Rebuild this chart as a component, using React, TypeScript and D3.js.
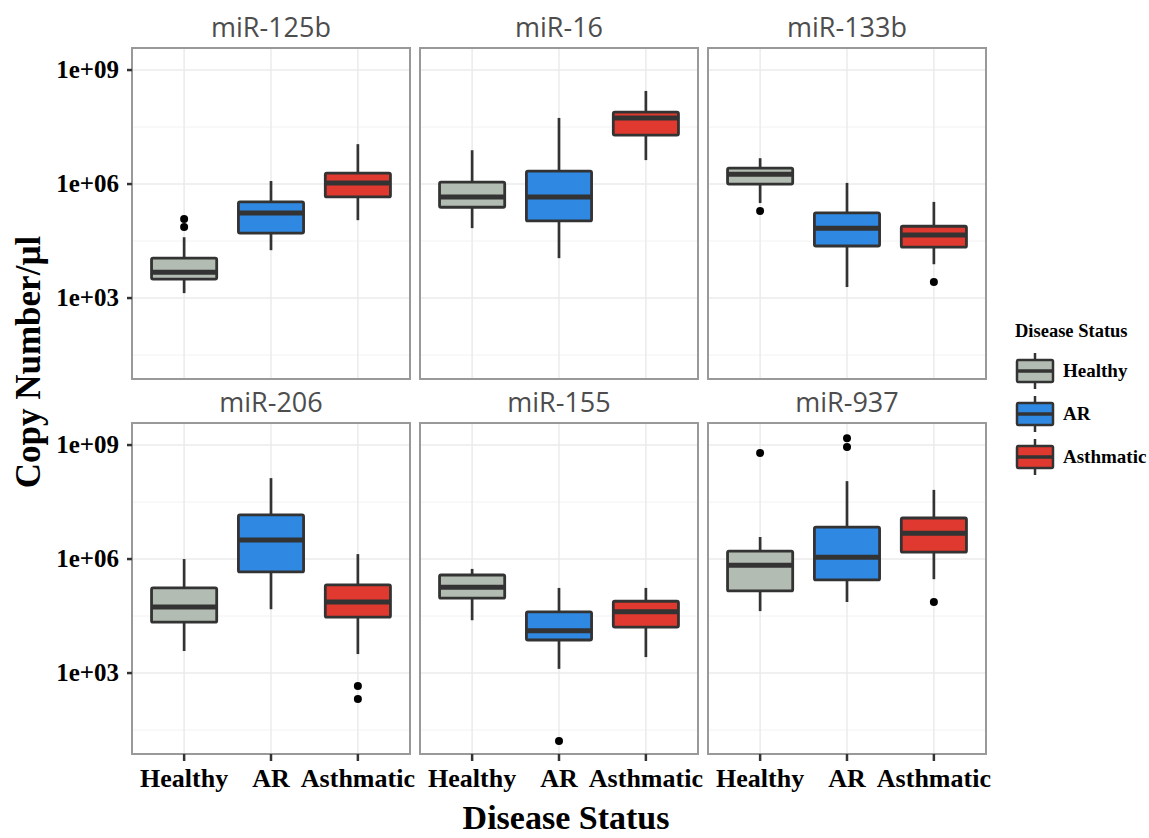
import React from "react";
import * as d3 from "d3";

// facet titles and groups
const panelNames = ["miR-125b", "miR-16", "miR-133b", "miR-206", "miR-155", "miR-937"];
const groups = ["Healthy", "AR", "Asthmatic"];
const groupColors = ["#b3bcb3", "#2f89e3", "#e0392f"];

// box stats per group, log10(copies/µl): [lower whisker, q1, median, q3, upper whisker]
const mir125b = [[3.13, 3.5, 3.68, 4.05, 4.6], [4.26, 4.71, 5.24, 5.53, 6.08], [5.05, 5.66, 6.03, 6.29, 7.05]];
const mir16 = [[4.84, 5.39, 5.66, 6.05, 6.89], [4.05, 5.03, 5.66, 6.34, 7.74], [6.63, 7.29, 7.74, 7.89, 8.45]];
const mir133b = [[5.5, 6.0, 6.26, 6.42, 6.68], [3.29, 4.37, 4.84, 5.24, 6.03], [3.89, 4.34, 4.66, 4.89, 5.53]];
const mir206 = [[3.58, 4.34, 4.74, 5.24, 6.0], [4.68, 5.66, 6.5, 7.16, 8.13], [3.5, 4.47, 4.87, 5.32, 6.13]];
const mir155 = [[4.39, 4.97, 5.26, 5.58, 5.74], [3.11, 3.87, 4.11, 4.61, 5.24], [3.42, 4.21, 4.61, 4.89, 5.24]];
const mir937 = [[4.63, 5.16, 5.84, 6.21, 6.58], [4.87, 5.45, 6.05, 6.84, 8.05], [5.47, 6.18, 6.68, 7.08, 7.82]];

// outliers per group, log10
const mir125bOut = [[5.08, 4.87], [], []];
const mir16Out = [[], [], []];
const mir133bOut = [[5.29], [], [3.42]];
const mir206Out = [[], [], [2.66, 2.32]];
const mir155Out = [[], [1.21], []];
const mir937Out = [[8.79], [9.18, 8.95], [4.87]];

const panelStats = [mir125b, mir16, mir133b, mir206, mir155, mir937];
const panelOutliers = [mir125bOut, mir16Out, mir133bOut, mir206Out, mir155Out, mir937Out];

const yTicks = [1e3, 1e6, 1e9];
const yMinor = [10 ** 1.5, 10 ** 4.5, 10 ** 7.5];
const yTickLabels = ["1e+03", "1e+06", "1e+09"];

const W = 1149;
const H = 838;
const colLeft = [132, 420, 708];
const rowTop = [48, 423];
const panelW = 278;
const panelH = 331;

const serif = "'Liberation Serif', 'Times New Roman', serif";
const ink = "#333333";

export default function App() {
  const x = d3.scalePoint<string>().domain(groups).range([0, panelW]).padding(0.6);
  const boxW = x.step() * 0.75;
  const y = d3.scaleLog().domain([10 ** 0.87, 10 ** 9.58]).range([panelH, 0]);

  return (
    <svg width={W} height={H} style={{ display: "block", position: "absolute", left: 0, top: 0, background: "#fff" }}>
      {panelNames.map((name, p) => {
        const col = p % 3;
        const row = Math.floor(p / 3);
        const stats = panelStats[p];
        const outs = panelOutliers[p];
        return (
          <g key={name} transform={`translate(${colLeft[col]},${rowTop[row]})`}>
            <rect x={0} y={0} width={panelW} height={panelH} fill="#fff" />
            {yMinor.map((t) => (
              <line key={"mn" + t} x1={0} x2={panelW} y1={y(t)} y2={y(t)} stroke="#f2f2f2" strokeWidth={1} />
            ))}
            {yTicks.map((t) => (
              <line key={"mj" + t} x1={0} x2={panelW} y1={y(t)} y2={y(t)} stroke="#ebebeb" strokeWidth={1.5} />
            ))}
            {groups.map((g) => (
              <line key={"vg" + g} x1={x(g)} x2={x(g)} y1={0} y2={panelH} stroke="#ebebeb" strokeWidth={1.5} />
            ))}
            {groups.map((g, i) => {
              const [lo, q1, med, q3, hi] = stats[i].map((v) => 10 ** v);
              const cx = x(g) as number;
              return (
                <g key={g}>
                  <line x1={cx} x2={cx} y1={y(hi)} y2={y(q3)} stroke={ink} strokeWidth={2.7} />
                  <line x1={cx} x2={cx} y1={y(q1)} y2={y(lo)} stroke={ink} strokeWidth={2.7} />
                  <rect
                    x={cx - boxW / 2}
                    y={y(q3)}
                    width={boxW}
                    height={y(q1) - y(q3)}
                    fill={groupColors[i]}
                    stroke={ink}
                    strokeWidth={2.8}
                    rx={1.5}
                  />
                  <line x1={cx - boxW / 2} x2={cx + boxW / 2} y1={y(med)} y2={y(med)} stroke={ink} strokeWidth={5} />
                  {outs[i].map((o, k) => (
                    <circle key={k} cx={cx} cy={y(10 ** o)} r={4} fill="#000" />
                  ))}
                </g>
              );
            })}
            <rect x={0} y={0} width={panelW} height={panelH} fill="none" stroke="#999999" strokeWidth={2} />
            <text
              x={panelW / 2}
              y={-11}
              textAnchor="middle"
              fontFamily="'Open Sans', 'DejaVu Sans', sans-serif"
              fontSize={27}
              fill="#4d4d4d"
            >
              {name}
            </text>
            {col === 0 &&
              yTicks.map((t, k) => (
                <g key={"yt" + t}>
                  <line x1={-5} x2={0} y1={y(t)} y2={y(t)} stroke={ink} strokeWidth={2.5} />
                  <text
                    x={-13}
                    y={y(t) + 8}
                    textAnchor="end"
                    fontFamily={serif}
                    fontWeight="bold"
                    fontSize={25}
                    fill="#000"
                  >
                    {yTickLabels[k]}
                  </text>
                </g>
              ))}
            {row === 1 &&
              groups.map((g) => (
                <g key={"xt" + g}>
                  <line x1={x(g)} x2={x(g)} y1={panelH} y2={panelH + 7} stroke={ink} strokeWidth={2.5} />
                  <text
                    x={x(g)}
                    y={panelH + 33}
                    textAnchor="middle"
                    fontFamily={serif}
                    fontWeight="bold"
                    fontSize={26}
                    fill="#000"
                  >
                    {g}
                  </text>
                </g>
              ))}
          </g>
        );
      })}

      {/* axis titles */}
      <text
        transform={`translate(40,362) rotate(-90)`}
        textAnchor="middle"
        fontFamily={serif}
        fontWeight="bold"
        fontSize={35}
        fill="#000"
      >
        Copy Number/µl
      </text>
      <text x={566} y={829} textAnchor="middle" fontFamily={serif} fontWeight="bold" fontSize={34} fill="#000">
        Disease Status
      </text>

      {/* legend */}
      <g transform="translate(1015,0)">
        <text x={0} y={337} fontFamily={serif} fontWeight="bold" fontSize={18.5} fill="#000">
          Disease Status
        </text>
        {groups.map((g, i) => {
          const cy = 371 + i * 43;
          return (
            <g key={"lg" + g}>
              <line x1={20} x2={20} y1={cy - 18} y2={cy + 18} stroke={ink} strokeWidth={2.5} />
              <rect x={2} y={cy - 11} width={36} height={22} fill={groupColors[i]} stroke={ink} strokeWidth={2.5} rx={1.5} />
              <line x1={2} x2={38} y1={cy} y2={cy} stroke={ink} strokeWidth={3.5} />
              <text x={48} y={cy + 6} fontFamily={serif} fontWeight="bold" fontSize={19} fill="#000">
                {g}
              </text>
            </g>
          );
        })}
      </g>
    </svg>
  );
}
